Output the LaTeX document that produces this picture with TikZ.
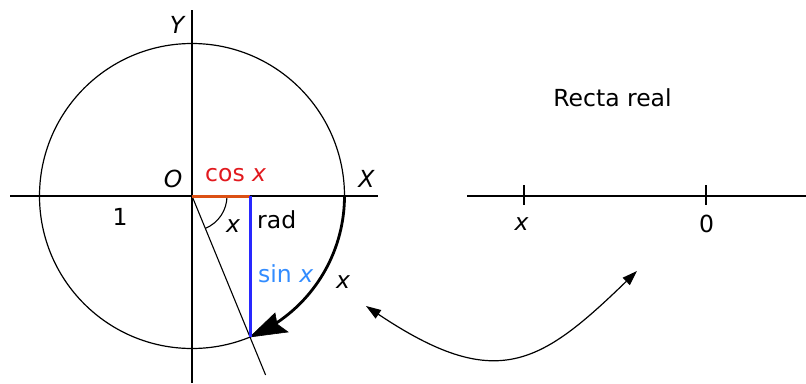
\documentclass[tikz,border=0pt]{standalone}
\usepackage{fontspec}
\setmainfont{DejaVu Sans}
\usetikzlibrary{arrows.meta}
\definecolor{cosred}{RGB}{225,25,30}
\definecolor{cosline}{RGB}{220,80,20}
\definecolor{sinline}{RGB}{40,40,255}
\definecolor{sintext}{RGB}{50,140,255}
\begin{document}
\begin{tikzpicture}[x=1pt,y=-1pt,
  lbl/.style={inner sep=0pt, anchor=base, font=\fontsize{23.5pt}{28pt}\selectfont},
  ilbl/.style={lbl, font=\fontsize{23.5pt}{28pt}\selectfont\itshape},
  axis/.style={line width=1.6pt},
  circ/.style={line width=1.2pt},
  thin line/.style={line width=1.1pt},
  walk/.style={line width=2.8pt},
  headfill/.style={fill=black, draw=black, line width=0.6pt, line join=miter},
  link/.style={line width=1.2pt, {Triangle[length=15pt,width=10pt]}-{Triangle[length=15pt,width=10pt]}}]
\useasboundingbox (0,0) rectangle (806,383);
% unit circle
\coordinate (O) at (192,196);
\coordinate (P) at (250,337);
\coordinate (xl) at (10,196);
\coordinate (xr) at (378,196);
\coordinate (yt) at (192,10);
\coordinate (yb) at (192,383);
\draw[circ] (O) circle[radius=152.5];
\draw[axis] (xl) -- (xr);
\draw[axis] (yt) -- (yb);
\coordinate (C) at (250,196);
\coordinate (R) at (265.6,375);
\draw[thin line] (O) -- (R);
\draw[thin line] (227,196) arc[start angle=0,end angle=67.64,radius=35];
\draw[walk] (344.5,196) arc[start angle=0,end angle=58,radius=152.5];
\coordinate (h1) at (275,313);
\coordinate (h2) at (277,324);
\coordinate (h3) at (288,332);
\filldraw[headfill] (P) -- (h1) -- (h2) -- (h3) -- cycle;
\draw[line width=3pt, cosline] (O) -- (C);
\draw[line width=3pt, sinline] (C) -- (P);
% labels
\node[ilbl] (ly) at (177,33) {Y};
\node[ilbl] (lo) at (173,187) {O};
\node[ilbl] (lx) at (366.5,187) {X};
\node[lbl, anchor=base west, text=cosred] (lcos) at (205,181) {cos \textit{x}};
\node[lbl] (lone) at (120,225) {1};
\node[ilbl] (lang) at (233,232) {x};
\node[lbl, anchor=base west] (lrad) at (257,228) {rad};
\node[lbl, anchor=base west, text=sintext] (lsin) at (258,282) {sin \textit{x}};
\node[ilbl] (larc) at (343,288) {x};
% real line
\coordinate (rl) at (467,196);
\coordinate (rr) at (806,196);
\draw[axis] (rl) -- (rr);
\coordinate (t1a) at (524,185);
\coordinate (t1b) at (524,205);
\coordinate (t2a) at (706,185);
\coordinate (t2b) at (706,205);
\draw[axis] (t1a) -- (t1b);
\draw[axis] (t2a) -- (t2b);
\node[lbl] (title) at (612.5,106) {Recta real};
\node[ilbl] (rx) at (521.5,230) {x};
\node[lbl] (r0) at (706.5,232) {0};
% link arrow
\coordinate (a1) at (366,306);
\coordinate (a2) at (637,271);
\draw[link] (a1) .. controls (496,393) and (540,365) .. (a2);
\end{tikzpicture}
\end{document}
